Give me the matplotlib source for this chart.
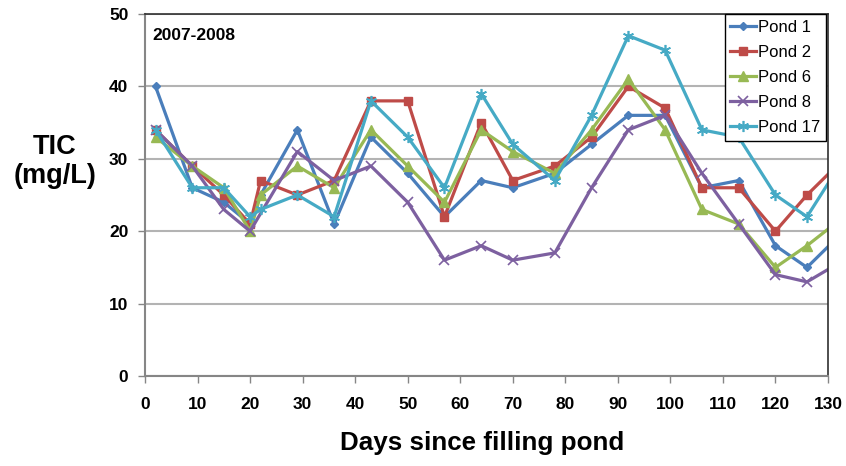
import numpy as np
import pandas as pd
import matplotlib
matplotlib.use("Agg")
import matplotlib.pyplot as plt

# TIC sampling, days since the ponds were filled
days = [2, 9, 15, 20, 22, 29, 36, 43, 50, 57, 64, 70, 78, 85, 92, 99, 106, 113, 120, 126, 133]

pond1 = [40, 26, 24, 21, 25, 34, 21, 33, 28, 22, 27, 26, 28, 32, 36, 36, 26, 27, 18, 15, 20]
pond2 = [34, 29, 25, 21, 27, 25, 27, 38, 38, 22, 35, 27, 29, 33, 40, 37, 26, 26, 20, 25, 30]
pond6 = [33, 29, 26, 20, 25, 29, 26, 34, 29, 24, 34, 31, 28, 34, 41, 34, 23, 21, 15, 18, 22]
pond8 = [34, 29, 23, 20, np.nan, 31, 27, 29, 24, 16, 18, 16, 17, 26, 34, 36, 28, 21, 14, 13, 16]
pond17 = [34, 26, 26, 22, 23, 25, 22, 38, 33, 26, 39, 32, 27, 36, 47, 45, 34, 33, 25, 22, 30]

df = pd.DataFrame({"Pond 1": pond1, "Pond 2": pond2, "Pond 6": pond6,
                   "Pond 8": pond8, "Pond 17": pond17}, index=days)

styles = {
    "Pond 1": dict(color="#4A7EBB", marker="D", ms=4.5),
    "Pond 2": dict(color="#BE4B48", marker="s", ms=6),
    "Pond 6": dict(color="#98B954", marker="^", ms=6.5),
    "Pond 8": dict(color="#7D60A0", marker="x", ms=7, mew=1.2),
    "Pond 17": dict(color="#46AAC5", marker=(6, 2, 0), ms=8, mew=1.2),
}

fig = plt.figure(figsize=(8.46, 4.66), dpi=100)
ax = fig.add_axes([145 / 846, 1 - 376 / 466, 683 / 846, 362 / 466])

for name in df.columns:
    s = df[name].dropna()
    ax.plot(s.index, s.values, lw=2.3, label=name, **styles[name])

ax.set_xlim(0, 130)
ax.set_ylim(0, 50)
ax.set_xticks(np.arange(0, 131, 10))
ax.set_yticks(np.arange(0, 51, 10))
ax.yaxis.grid(True, color="#B3B3B3", lw=1.5)
ax.set_axisbelow(True)

for lab in ax.get_xticklabels() + ax.get_yticklabels():
    lab.set_fontweight("bold")
    lab.set_fontfamily("Liberation Sans")
ax.tick_params(axis="both", direction="out", length=5, width=1, color="#868686",
               labelsize=12.5)
ax.tick_params(axis="x", pad=10)
ax.tick_params(axis="y", pad=7)

for side in ("left", "bottom"):
    ax.spines[side].set_color("#868686")
    ax.spines[side].set_linewidth(1.5)
for side in ("top", "right"):
    ax.spines[side].set_color("#303030")
    ax.spines[side].set_linewidth(1.2)

ax.text(0.011, 0.962, "2007-2008", transform=ax.transAxes, ha="left", va="top",
        fontsize=12.5, fontweight="bold", family="Liberation Sans")

leg = ax.legend(loc="upper right", bbox_to_anchor=(0.997, 1.0), borderaxespad=0,
                fancybox=False, framealpha=1, edgecolor="black",
                prop=dict(family="Liberation Sans", size=12),
                handlelength=1.55, handletextpad=0.1, labelspacing=0.6,
                borderpad=0.35)
leg.get_frame().set_linewidth(1.0)

fig.text(55 / 846, 1 - 162 / 466, "TIC\n(mg/L)", ha="center", va="center",
         fontsize=19.5, fontweight="bold", family="Liberation Sans", linespacing=1.15)
fig.text(482 / 846, 1 - 443 / 466, "Days since filling pond", ha="center", va="center",
         fontsize=18.7, fontweight="bold", family="Liberation Sans")

fig.savefig("out.png", dpi=100)
